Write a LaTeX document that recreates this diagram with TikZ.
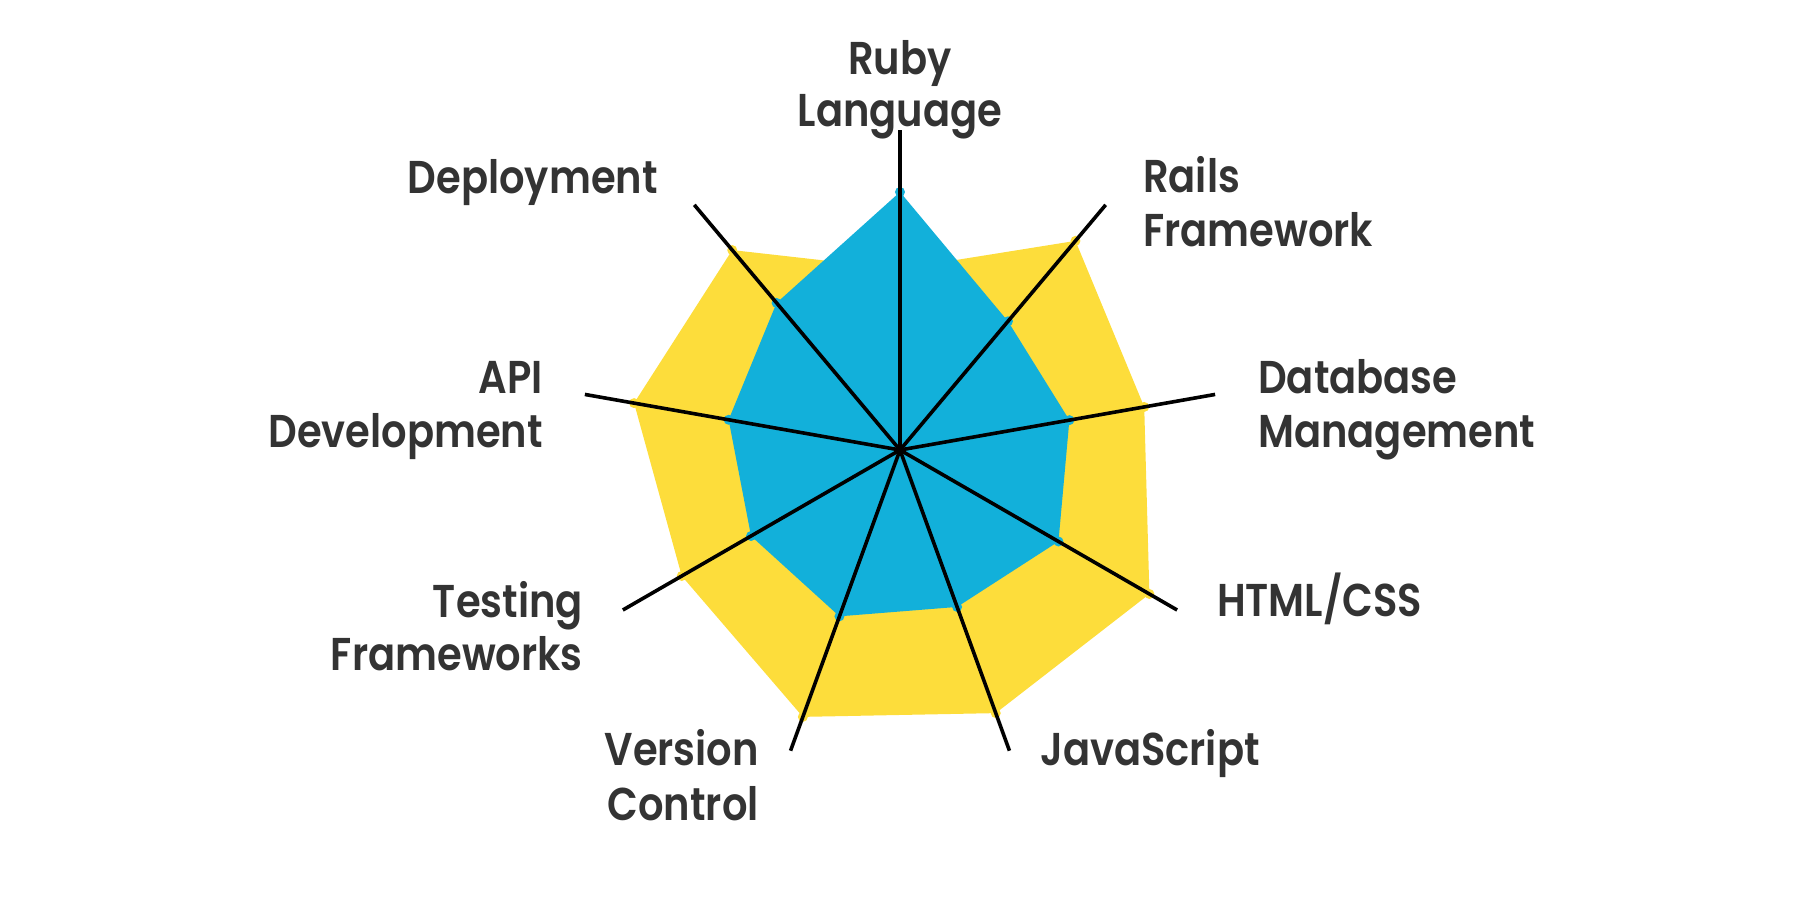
\documentclass[tikz,border=0pt]{standalone}
\usepackage{fontspec}
\newfontfamily\labfont{Poppins SemiBold}[FakeStretch=0.87]
\definecolor{ryellow}{HTML}{FDDD3B}
\definecolor{rblue}{HTML}{12B0DA}
\definecolor{rtext}{HTML}{333333}
\begin{document}
\begin{tikzpicture}[x=1pt,y=1pt,
  lab/.style={font={\labfont\fontsize{46}{52}\selectfont}, text=rtext, inner sep=0pt},
  axisline/.style={black, line width=3.6pt},
  ydot/.style={fill=ryellow},
  bdot/.style={fill=rblue}]
\useasboundingbox (-900,-450) rectangle (900,450);
\coordinate (O) at (0,0);
\foreach \nm/\ang in {ruby/90, rails/50, db/10, html/-30, js/-70, vc/-110, test/-150, api/170, dep/130}
  \coordinate (\nm-end) at (\ang:320);
% yellow series
\fill[ryellow] (90:181) -- (50:273) -- (10:248) -- (-30:288) -- (-70:280) -- (-110:284) -- (-150:252) -- (170:270) -- (130:261) -- cycle;
\foreach \ang/\r in {90/181, 50/273, 10/248, -30/288, -70/280, -110/284, -150/252, 170/270, 130/261}
  \fill[ydot] (\ang:\r) circle (5);
% blue series
\fill[rblue] (90:258) -- (50:168) -- (10:172) -- (-30:183) -- (-70:167) -- (-110:177) -- (-150:172) -- (170:174) -- (130:192) -- cycle;
\foreach \ang/\r in {90/258, 50/168, 10/172, -30/183, -70/167, -110/177, -150/172, 170/174, 130/192}
  \fill[bdot] (\ang:\r) circle (5);
% axes
\foreach \nm in {ruby, rails, db, html, js, vc, test, api, dep}
  \draw[axisline] (O) -- (\nm-end);
% labels
\node[lab, anchor=base] (ruby1) at (0,375) {Ruby};
\node[lab, anchor=base] (ruby2) at (0,323) {Language};
\node[lab, anchor=base east] (dep1) at (-242,256) {Deployment};
\node[lab, anchor=base west] (rails1) at (243,257) {Rails};
\node[lab, anchor=base west] (rails2) at (243,203) {Framework};
\node[lab, anchor=base east] (api1) at (-357,57) {API};
\node[lab, anchor=base east] (api2) at (-357,3) {Development};
\node[lab, anchor=base west] (db1) at (358,57) {Database};
\node[lab, anchor=base west] (db2) at (358,3) {Management};
\node[lab, anchor=base west] (html1) at (317,-166) {HTML/CSS};
\node[lab, anchor=base east] (test1) at (-317,-167) {Testing};
\node[lab, anchor=base east] (test2) at (-317,-220) {Frameworks};
\node[lab, anchor=base east] (vc1) at (-141,-315) {Version};
\node[lab, anchor=base east] (vc2) at (-141,-370) {Control};
\node[lab, anchor=base west] (js1) at (140,-315) {JavaScript};
\end{tikzpicture}
\end{document}
